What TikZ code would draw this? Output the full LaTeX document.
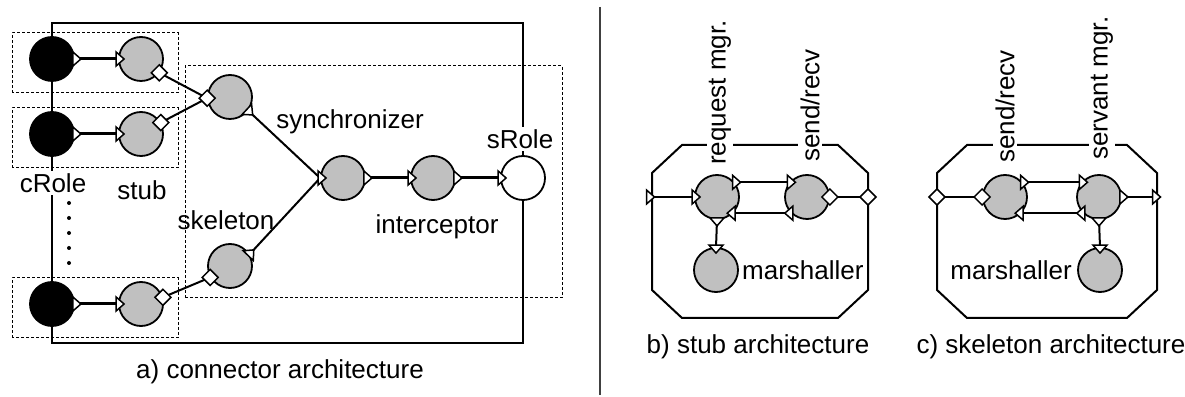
\documentclass[tikz,border=0pt]{standalone}
\usepackage{fontspec}
\setmainfont{Liberation Sans}
\usepackage{xcolor}
\usepackage{tikz}
\definecolor{compgray}{RGB}{192,192,192}

\begin{document}
\begin{tikzpicture}[x=1pt, y=1pt,
  comp/.style={circle, draw, line width=1.8pt, fill=compgray, minimum size=44pt, inner sep=0pt},
  role/.style={comp, fill=black},
  srole/.style={comp, fill=white},
  link/.style={line width=3pt},
  wire/.style={line width=2pt},
  box/.style={line width=1pt, dash pattern=on 3pt off 2pt},
  lbl/.style={font=\fontsize{26}{30}\selectfont, inner sep=2pt},
  tri/.pic={\draw[fill=white, line width=1.5pt] (-2,-7) -- (6,0) -- (-2,7) -- cycle;},
  dia/.pic={\draw[fill=white, line width=1.5pt] (-8,0) -- (0,8) -- (8,0) -- (0,-8) -- cycle;}]
  \useasboundingbox (0,0) rectangle (1185,396);

  % a) connector architecture
  \draw[box] (12,303) rectangle (178,363);
  \draw[box] (12,228) rectangle (178,288);
  \draw[box] (12,58) rectangle (178,118);
  \draw[box] (185,98) rectangle (562,330);
  % roles and components
  \node[role] (B1) at (52,337) {};
  \node[role] (B2) at (52,262) {};
  \node[role] (B3) at (52,92) {};
  \node[comp] (S1) at (141,337) {};
  \node[comp] (S2) at (141,262) {};
  \node[comp] (S3) at (141,92) {};
  \node[comp] (Y1) at (230,299) {};
  \node[comp] (K) at (230,130) {};
  \node[comp] (M) at (343,218) {};
  \node[comp] (I) at (433,218) {};
  \node[srole] (R) at (523,218) {};
  % role bindings
  \draw[wire] (B1) -- ++(0,36) -| (R);
  \draw[wire] (B1) -- (B2);
  \draw[wire] (B2) -- (B3);
  \draw[wire] (B3) -- ++(0,-39) -| (R);
  % connections
  \draw[link] (B1.0) -- (S1.180);
  \draw[link] (B2.0) -- (S2.180);
  \draw[link] (B3.0) -- (S3.180);
  \draw[wire] (S1.-37) -- (Y1.183);
  \draw[wire] (S2.30) -- (Y1.183);
  \draw[wire] (S3.17) -- (K.210);
  \draw[wire] (Y1.-37) -- (M.180);
  \draw[wire] (K.31) -- (M.180);
  \draw[link] (M.0) -- (I.180);
  \draw[link] (I.0) -- (R.180);
  % ports
  \foreach \n in {B1,B2,B3,M,I} \pic at (\n.0) {tri};
  \foreach \n in {S1,S2,S3,M,I,R} \pic at (\n.180) {tri};
  \pic at (S1.-37) {dia};
  \pic at (S2.30) {dia};
  \pic at (S3.17) {dia};
  \pic at (Y1.183) {dia};
  \pic at (K.210) {dia};
  \pic[rotate=-43] at (Y1.-37) {tri};
  \pic[rotate=46] at (K.31) {tri};
  \foreach \y in {133,148,...,193} \fill (69,\y) circle (2);
  % labels
  \node[lbl, fill=white] (crole) at (53,213) {cRole};
  \node[lbl] (stubl) at (142,206) {stub};
  \node[lbl] (syncl) at (350,274) {synchronizer};
  \node[lbl] (skell) at (226,176) {skeleton};
  \node[lbl] (intl) at (437,169) {interceptor};
  \node[lbl, fill=white] (srolel) at (520,257) {sRole};
  \node[lbl] (capa) at (280,24) {a) connector architecture};

  \draw[line width=1.4pt, black!75] (600,389) -- (600,1);

  % b) stub architecture
  \draw[wire] (682,251) -- (838,251) -- (868,223) -- (868,106) -- (838,78)
    -- (682,78) -- (652,106) -- (652,223) -- cycle;
  \node[comp] (RM) at (717,199) {};
  \node[comp] (SR) at (807,199) {};
  \node[comp] (MA) at (716,126) {};
  \coordinate (bin) at (652,199);
  \coordinate (bout) at (868,199);
  \draw[wire] (bin) -- (RM.180);
  \draw[wire] (RM.40) -- (SR.140);
  \draw[wire] (SR.225) -- (RM.-45);
  \draw[wire] (RM.270) -- (MA.90);
  \draw[wire] (SR.0) -- (bout);
  \pic at ([xshift=-3.5pt]bin) {tri};
  \pic at (RM.180) {tri};
  \pic at (RM.40) {tri};
  \pic at (SR.140) {tri};
  \pic[rotate=180] at (SR.225) {tri};
  \pic[rotate=180] at (RM.-45) {tri};
  \pic[rotate=-90] at (RM.270) {tri};
  \pic[rotate=-90] at (MA.90) {tri};
  \pic at (SR.0) {dia};
  \pic at (bout) {dia};
  \node[lbl, fill=white, rotate=90, anchor=west] (rml) at (720,229) {request mgr.};
  \node[lbl, fill=white, rotate=90, anchor=west] (srl) at (810,232) {send/recv};
  \node[lbl, anchor=west] (mal) at (740,126) {marshaller};
  \node[lbl] (capb) at (758,49) {b) stub architecture};

  % c) skeleton architecture
  \draw[wire] (967,251) -- (1127,251) -- (1157,223) -- (1157,106) -- (1127,78)
    -- (967,78) -- (937,106) -- (937,223) -- cycle;
  \node[comp] (SR2) at (1005,199) {};
  \node[comp] (SM) at (1099,199) {};
  \node[comp] (MA2) at (1100,126) {};
  \coordinate (cin) at (937,199);
  \coordinate (cout) at (1157,199);
  \draw[wire] (cin) -- (SR2.180);
  \draw[wire] (SR2.40) -- (SM.140);
  \draw[wire] (SM.225) -- (SR2.-45);
  \draw[wire] (SM.0) -- (cout);
  \draw[wire] (SM.270) -- (MA2.90);
  \pic at (cin) {dia};
  \pic at (SR2.180) {dia};
  \pic at (SR2.40) {tri};
  \pic at (SM.140) {tri};
  \pic[rotate=180] at (SM.225) {tri};
  \pic[rotate=180] at (SR2.-45) {tri};
  \pic at (SM.0) {tri};
  \pic at ([xshift=-2.5pt]cout) {tri};
  \pic[rotate=-90] at (SM.270) {tri};
  \pic[rotate=-90] at (MA2.90) {tri};
  \node[lbl, fill=white, rotate=90, anchor=west] (sr2l) at (1005,231) {send/recv};
  \node[lbl, fill=white, rotate=90, anchor=west] (sml) at (1102,234) {servant mgr.};
  \node[lbl, anchor=east] (ma2l) at (1074,126) {marshaller};
  \node[lbl] (capc) at (1051,49) {c) skeleton architecture};
\end{tikzpicture}
\end{document}
